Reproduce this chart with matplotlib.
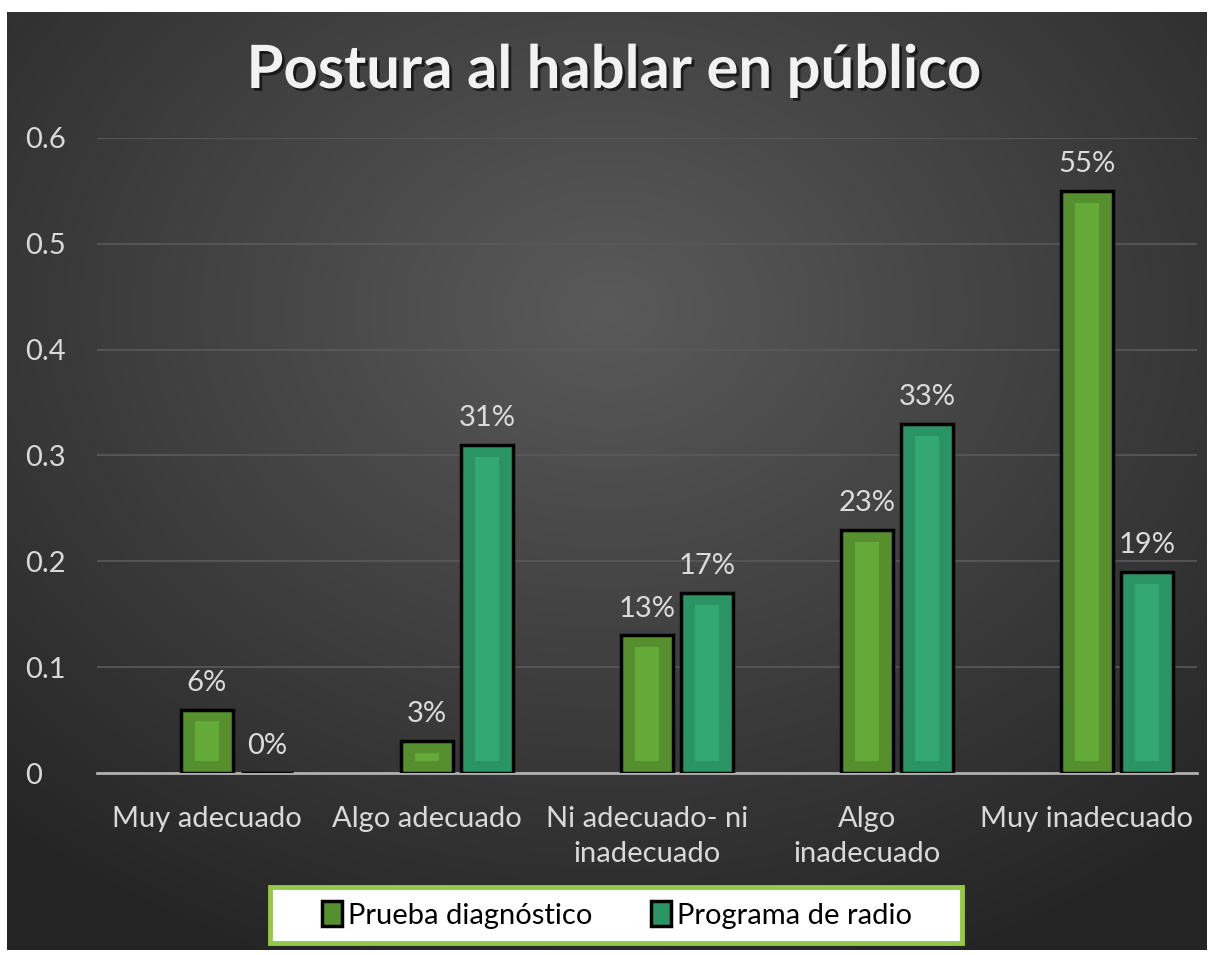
import numpy as np
import matplotlib
matplotlib.use("Agg")
import matplotlib.pyplot as plt
from matplotlib.patches import Rectangle, Patch
import matplotlib.patheffects as pe

plt.rcParams["font.family"] = ["Lato", "DejaVu Sans"]

categories = ["Muy adecuado", "Algo adecuado", "Ni adecuado- ni\ninadecuado",
              "Algo\ninadecuado", "Muy inadecuado"]
prueba = [0.06, 0.03, 0.13, 0.23, 0.55]
programa = [0.00, 0.31, 0.17, 0.33, 0.19]
series_names = ["Prueba diagnóstico", "Programa de radio"]
yticks = [0, 0.1, 0.2, 0.3, 0.4, 0.5, 0.6]
ytick_labels = ["0", "0.1", "0.2", "0.3", "0.4", "0.5", "0.6"]

outer_cols = ["#56902e", "#2a9464"]
inner_cols = ["#64aa38", "#34a873"]

W, H = 1214, 955
fig = plt.figure(figsize=(W / 100, H / 100), dpi=100)
fig.patch.set_facecolor("white")

# dark panel with radial gradient
bg = fig.add_axes([7 / W, 5 / H, 1200 / W, 938 / H])
bg.axis("off")
yy, xx = np.mgrid[0:300, 0:400]
cx, cy = 200, 95
r = np.sqrt(((xx - cx) / 400) ** 2 + ((yy - cy) / 300) ** 2)
r = np.clip(r / 0.75, 0, 1)
c0 = np.array([0x5a, 0x5a, 0x5a]) / 255
c1 = np.array([0x25, 0x25, 0x25]) / 255
img = c0[None, None, :] * (1 - r[..., None]) + c1[None, None, :] * r[..., None]
bg.imshow(img, aspect="auto", extent=[0, 1, 0, 1], origin="upper")
bg.set_xlim(0, 1)
bg.set_ylim(0, 1)

ax = fig.add_axes([97 / W, (H - 773) / H, 1100 / W, (773 - 138) / H])
ax.set_facecolor("none")
ax.set_xlim(-0.5, len(categories) - 0.5)
ax.set_ylim(0, 0.6)

bw = 0.236
offsets = [0.0, 0.272]
x = np.arange(len(categories))
for s, vals in enumerate([prueba, programa]):
    xs = x + offsets[s]
    ax.bar(xs, vals, width=bw, color=outer_cols[s], edgecolor="black",
           linewidth=2.5, zorder=3)
    pad_y = 0.0113
    for xi, v in zip(xs, vals):
        if v > 2 * pad_y:
            ax.add_patch(Rectangle((xi - 0.055, pad_y), 0.11, v - 2 * pad_y,
                                   facecolor=inner_cols[s], edgecolor="none",
                                   zorder=4))
        ax.text(xi, v + 0.013, f"{v * 100:.0f}%", ha="center", va="bottom",
                fontsize=21, color="#dcdcdc", zorder=5)

ax.set_yticks(yticks)
ax.set_yticklabels(ytick_labels)
for lab in ax.get_yticklabels():
    lab.set_horizontalalignment("left")
ax.tick_params(axis="y", length=0, pad=52, labelsize=21, labelcolor="#d9d9d9")
ax.set_xticks(x)
ax.set_xticklabels(categories, linespacing=1.4)
ax.tick_params(axis="x", length=0, pad=24, labelsize=21, labelcolor="#d9d9d9")
ax.grid(axis="y", color="#5a5a5a", linewidth=1.2, zorder=0)
ax.set_axisbelow(True)
for side in ["top", "right", "left"]:
    ax.spines[side].set_visible(False)
ax.spines["bottom"].set_color("#b0b0b0")
ax.spines["bottom"].set_linewidth(2)
ax.spines["bottom"].set_zorder(2.5)

fig.text(0.506, (H - 71) / H, "Postura al hablar en público", ha="center",
         va="center", fontsize=43, fontweight="bold", color="#f2f2f2",
         path_effects=[pe.withSimplePatchShadow(offset=(2, -2),
                                                shadow_rgbFace="black",
                                                alpha=0.6)])

# legend box
fig.add_artist(Rectangle((270 / W, (H - 943) / H), 692 / W, 56 / H,
                         transform=fig.transFigure, facecolor="white",
                         edgecolor="#96c93d", linewidth=3.5, zorder=5))
handles = [Patch(facecolor=outer_cols[i], edgecolor="black", linewidth=2.5)
           for i in range(2)]
leg = fig.legend(handles, series_names, loc="center",
                 bbox_to_anchor=(617 / W, (H - 915) / H), ncol=2,
                 fontsize=21, frameon=False,
                 handlelength=0.7, handleheight=0.9, handletextpad=0.2,
                 columnspacing=2.0)
leg.set_zorder(6)

fig.savefig("out.png", dpi=100)
